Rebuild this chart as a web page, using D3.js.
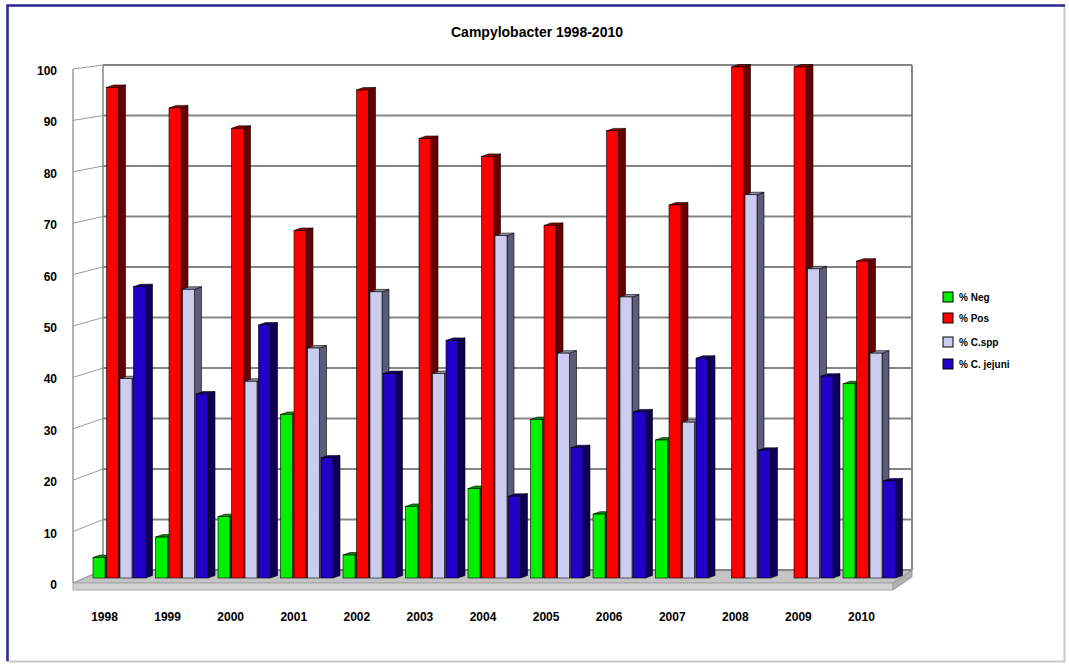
<!DOCTYPE html>
<html>
<head>
<meta charset="utf-8">
<script src="https://cdn.jsdelivr.net/npm/d3@7"></script>
<style>
  html, body { margin: 0; padding: 0; background: #ffffff; }
  svg { display: block; }
  text { font-family: Arial, "Liberation Sans", sans-serif; font-weight: bold; fill: #000; }
</style>
</head>
<body>
<svg id="chart" width="1069" height="665"></svg>
<script>
// Campylobacter results per year (percent)
const years = ["1998", "1999", "2000", "2001", "2002", "2003", "2004", "2005", "2006", "2007", "2008", "2009", "2010"];
const seriesNames = ["% Neg", "% Pos", "% C.spp", "% C. jejuni"];
const negValues    = [4, 8, 12, 32, 4.5, 14, 17.5, 31, 12.5, 27, 0, 0, 38];
const posValues    = [96, 92, 88, 68, 95.5, 86, 82.5, 69, 87.5, 73, 100, 100, 62];
const sppValues    = [39, 56.5, 38.5, 45, 56, 40, 67, 44, 55, 30.5, 75, 60.5, 44];
const jejuniValues = [57, 36, 49.5, 23.5, 40, 46.5, 16, 25.5, 32.5, 43, 25, 39.5, 19];
const yTicks = [0, 10, 20, 30, 40, 50, 60, 70, 80, 90, 100];
const titleText = "Campylobacter 1998-2010";

const seriesValues = [negValues, posValues, sppValues, jejuniValues];
const faceColors = ["#00f000", "#ff0000", "#ccccf0", "#2200c8"];
const sideColors = ["#006800", "#680000", "#5c5c78", "#0e0058"];
const topColors  = ["#009000", "#900000", "#9090ac", "#16007a"];

const svg = d3.select("#chart");

// outer frame
svg.append("rect").attr("x", 7.5).attr("y", 5.5).attr("width", 1057).attr("height", 656)
  .attr("fill", "#fff").attr("stroke", "#c8c8c8").attr("stroke-width", 2);
svg.append("path").attr("d", "M7.5,661 L7.5,5.5 L1065,5.5")
  .attr("fill", "none").attr("stroke", "#2a2a98").attr("stroke-width", 2.5);

// title
svg.append("text").attr("x", 537).attr("y", 37).attr("text-anchor", "middle")
  .attr("font-size", 14).text(titleText);

// value scales: front plane, back wall, and the plane where the bars stand
const yFront = d3.scaleLinear().domain([0, 100]).range([583, 69]);
const yBack  = d3.scaleLinear().domain([0, 100]).range([570, 65]);
const yBar   = d3.scaleLinear().domain([0, 100]).range([578, 67]);

// category scales
const xFront = d3.scaleBand().domain(years).range([73, 893]);
const xGroup = d3.scaleBand().domain(years).range([93, 897]).paddingInner(0.136).paddingOuter(0);
const xSeries = d3.scaleBand().domain(d3.range(4)).range([0, xGroup.bandwidth()]);

const backL = 103, backR = 912, frontL = 73, frontR = 893;
const gridColor = "#858585";

// floor slab
const floor = svg.append("g");
floor.append("path")
  .attr("d", `M${frontL},${yFront(0)} L${frontR},${yFront(0)} L${backR},${yBack(0)} L${backL},${yBack(0)} Z`)
  .attr("fill", "#c4c4c4").attr("stroke", "#9a9a9a").attr("stroke-width", 1);
floor.append("path")
  .attr("d", `M${frontL},${yFront(0)} L${frontR},${yFront(0)} L${frontR},${yFront(0) + 7} L${frontL},${yFront(0) + 7} Z`)
  .attr("fill", "#d2d2d2").attr("stroke", "#a8a8a8").attr("stroke-width", 1);
floor.append("path")
  .attr("d", `M${frontR},${yFront(0)} L${backR},${yBack(0)} L${backR},${yBack(0) + 7} L${frontR},${yFront(0) + 7} Z`)
  .attr("fill", "#b0b0b0").attr("stroke", "#9a9a9a").attr("stroke-width", 1);

// back wall with gridlines
const wall = svg.append("g");
wall.selectAll("line.hgrid").data(yTicks).join("line").attr("class", "hgrid")
  .attr("x1", backL).attr("x2", backR)
  .attr("y1", d => yBack(d)).attr("y2", d => yBack(d))
  .attr("stroke", gridColor).attr("stroke-width", 2);
wall.append("line").attr("x1", backR).attr("x2", backR).attr("y1", yBack(100)).attr("y2", yBack(0))
  .attr("stroke", gridColor).attr("stroke-width", 2);
wall.append("line").attr("x1", backL).attr("x2", backL).attr("y1", yBack(100)).attr("y2", yBack(0))
  .attr("stroke", gridColor).attr("stroke-width", 1.5);

// left side wall
wall.selectAll("line.sgrid").data(yTicks).join("line").attr("class", "sgrid")
  .attr("x1", frontL).attr("x2", backL)
  .attr("y1", d => yFront(d)).attr("y2", d => yBack(d))
  .attr("stroke", "#9a9a9a").attr("stroke-width", 1);
wall.append("line").attr("x1", frontL).attr("x2", frontL).attr("y1", yFront(100)).attr("y2", yFront(0))
  .attr("stroke", "#9a9a9a").attr("stroke-width", 1.5);

// y axis labels
svg.append("g").selectAll("text").data(yTicks).join("text")
  .attr("x", 57).attr("y", d => yFront(d) + 6)
  .attr("text-anchor", "end").attr("font-size", 12)
  .text(d => d);

// x axis labels
svg.append("g").selectAll("text").data(years).join("text")
  .attr("x", d => xFront(d) + xFront.bandwidth() / 2)
  .attr("y", 621).attr("text-anchor", "middle").attr("font-size", 12)
  .text(d => d);

// 3D bars
const faceW = 12, dx = 7, dy = -2.5;
const bars = svg.append("g");
years.forEach((yr, gi) => {
  seriesValues.forEach((vals, si) => {
    const v = vals[gi];
    if (!(v > 0)) return;
    const x0 = xGroup(yr) + xSeries(si);
    const x1 = x0 + faceW;
    const yb = yBar(0), yt = yBar(v);
    const g = bars.append("g");
    g.append("path")
      .attr("d", `M${x1},${yb} L${x1 + dx},${yb + dy} L${x1 + dx},${yt + dy} L${x1},${yt} Z`)
      .attr("fill", sideColors[si]).attr("stroke", "#000").attr("stroke-width", 0.6);
    g.append("path")
      .attr("d", `M${x0},${yt} L${x1},${yt} L${x1 + dx},${yt + dy} L${x0 + dx},${yt + dy} Z`)
      .attr("fill", topColors[si]).attr("stroke", "#000").attr("stroke-width", 0.6);
    g.append("rect")
      .attr("x", x0).attr("y", yt).attr("width", faceW).attr("height", yb - yt)
      .attr("fill", faceColors[si]).attr("stroke", "#000").attr("stroke-width", 0.6);
  });
});

// legend
const legendY = [297, 318, 342, 364];
const legend = svg.append("g");
seriesNames.forEach((name, i) => {
  legend.append("rect").attr("x", 943).attr("y", legendY[i] - 5).attr("width", 10).attr("height", 10)
    .attr("fill", faceColors[i]).attr("stroke", "#000").attr("stroke-width", 1);
  legend.append("text").attr("x", 959).attr("y", legendY[i] + 4).attr("font-size", 10).text(name);
});
</script>
</body>
</html>
